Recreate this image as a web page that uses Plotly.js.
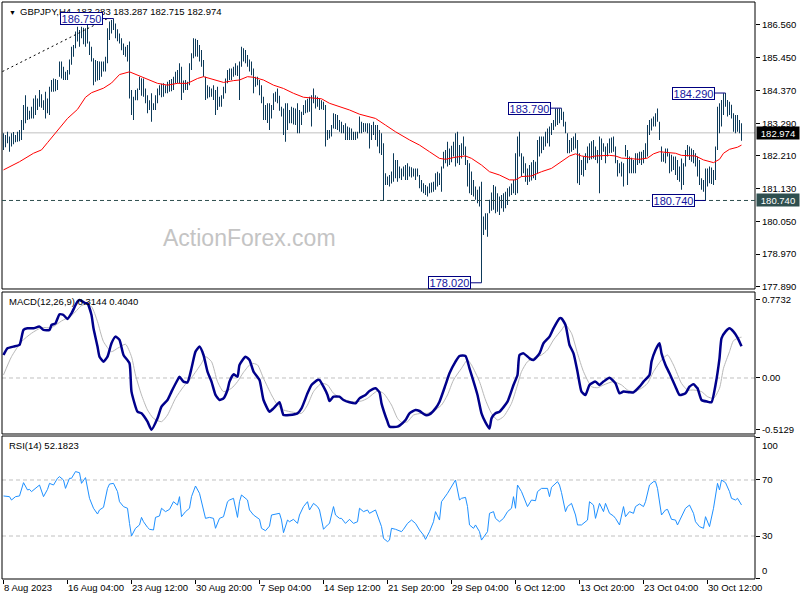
<!DOCTYPE html>
<html><head><meta charset="utf-8">
<script src="https://cdn.plot.ly/plotly-3.0.1.min.js"></script>
<style>html,body{margin:0;padding:0;background:#fff}#chart{width:800px;height:600px}</style>
</head><body><div id="chart"></div>
<script>
const symbolName = 'GBPJPY,H4';
const lastBarOHLC = [183.283, 183.287, 182.715, 182.974];
const macdHeader = [0.3144, 0.4040];
const rsiHeader = 52.1823;

const barHigh = [
182.96,182.90,183.01,182.85,182.96,183.00,182.90,183.01,183.07,183.40,
183.89,184.22,183.84,183.70,183.84,184.11,184.22,184.11,184.39,184.25,
184.05,184.33,184.11,184.50,184.72,184.77,184.75,184.72,185.33,185.33,
185.16,184.99,185.05,185.40,185.82,185.88,186.32,186.48,186.37,186.48,
186.45,186.43,186.54,185.99,185.82,185.44,185.38,185.35,185.33,185.33,
185.33,185.49,186.43,186.65,186.70,186.75,186.59,186.40,186.26,186.10,
185.93,185.82,185.88,185.99,184.39,184.17,184.39,184.44,184.83,184.78,
184.77,184.44,184.22,184.05,184.28,183.95,184.22,184.44,184.55,184.60,
184.61,184.55,184.66,184.72,184.75,184.83,184.99,185.05,185.27,185.16,
184.70,184.72,184.66,185.27,185.60,186.10,186.08,186.04,185.88,185.71,
185.38,184.83,184.55,184.50,184.44,184.55,184.39,184.50,184.17,184.22,
184.50,184.77,185.05,185.10,185.10,185.16,185.27,185.20,185.33,185.82,
185.77,185.71,185.55,185.40,185.33,185.10,184.83,184.83,184.72,184.55,
184.17,183.89,183.95,183.95,183.89,184.28,184.33,184.44,184.20,183.84,
183.78,183.95,183.95,183.73,183.84,183.80,183.78,183.95,183.73,183.67,
183.89,184.05,184.10,184.17,184.22,184.44,184.22,184.17,184.11,184.05,
184.00,183.89,183.07,183.07,183.23,183.62,183.60,183.56,183.40,183.34,
183.23,183.29,183.18,183.15,183.12,183.01,183.01,183.01,183.51,183.34,
183.30,183.29,183.29,183.29,183.23,183.34,183.23,183.23,183.07,182.96,
182.63,181.64,181.53,181.58,181.70,182.30,182.08,182.08,181.86,181.80,
181.86,181.91,181.97,181.86,181.84,181.80,181.80,181.80,181.58,181.42,
181.31,181.25,181.20,181.31,181.33,181.36,181.64,181.69,181.64,181.86,
182.35,182.41,182.68,182.46,182.55,182.68,182.96,183.01,182.57,182.63,
182.85,182.52,182.08,181.97,181.70,181.42,181.20,181.09,181.20,181.36,
180.21,180.32,180.32,180.76,181.00,181.25,181.20,180.98,180.87,180.92,
180.98,181.03,181.14,181.20,181.30,181.42,182.30,182.85,183.01,182.30,
182.19,181.97,181.80,181.91,182.00,182.08,182.02,182.74,182.85,182.85,
182.85,183.01,183.12,183.18,183.30,183.40,183.78,183.78,183.78,183.79,
183.67,183.34,182.96,182.74,182.80,182.85,182.96,182.74,182.30,182.08,
182.19,182.30,182.52,182.63,182.70,182.74,182.52,182.41,182.85,182.79,
182.63,182.52,182.63,182.79,182.82,182.85,182.52,182.08,181.97,182.02,
181.97,182.57,182.41,182.19,182.15,182.08,182.30,182.30,182.35,182.35,
182.41,182.63,183.23,183.40,183.45,183.51,183.62,183.78,183.34,182.52,
182.30,182.46,182.46,182.30,182.25,182.19,182.19,182.08,181.86,182.13,
181.97,182.41,182.57,182.52,182.46,182.41,182.30,182.19,182.08,181.47,
181.42,181.80,181.80,181.86,181.83,181.75,182.52,183.84,183.95,184.06,
184.28,184.29,184.06,184.00,183.90,183.62,183.56,183.56,183.40,183.287
];
const barLow = [
182.41,182.50,182.63,182.35,182.52,182.60,182.66,182.68,182.70,182.74,
183.07,183.29,183.40,183.42,183.45,183.45,183.56,183.73,183.84,183.80,
183.73,183.45,183.62,183.56,184.33,184.33,184.35,184.39,184.83,184.77,
184.72,184.72,184.72,184.90,185.22,185.49,185.77,185.99,185.82,186.10,
185.90,185.82,185.93,185.55,185.33,184.55,184.66,184.70,184.72,184.83,
185.00,185.00,185.27,186.04,186.26,186.37,186.10,186.00,185.93,185.70,
185.55,185.49,185.33,184.11,183.56,183.40,184.05,184.05,184.39,184.20,
184.17,183.95,183.62,183.73,183.34,183.73,183.73,183.95,184.22,184.15,
184.17,184.28,184.28,184.33,184.35,184.39,184.61,184.61,184.61,184.06,
184.30,184.39,184.39,184.55,185.05,185.44,185.50,185.49,185.33,185.16,
184.83,184.06,184.11,184.15,184.17,184.06,183.56,183.73,183.84,183.84,
184.10,184.28,184.61,184.72,184.72,184.83,184.88,184.85,184.06,185.16,
185.33,185.27,185.16,185.00,184.88,184.28,184.50,184.55,184.22,183.95,
183.40,183.40,183.30,183.07,183.45,183.73,184.00,183.95,183.70,183.51,
182.90,182.68,183.07,183.29,183.29,183.25,183.23,182.96,182.96,183.23,
183.56,183.62,183.65,183.67,183.18,183.95,183.78,183.84,183.73,183.75,
183.73,182.52,182.74,182.79,182.85,183.12,183.10,183.07,183.01,182.96,
182.96,182.74,182.74,182.74,182.74,182.74,182.74,182.79,182.96,182.96,
183.00,183.01,182.96,182.46,182.74,182.90,182.74,182.52,182.30,182.24,
180.74,181.25,181.25,181.20,181.30,181.36,181.47,181.36,181.47,181.42,
181.53,181.42,181.42,181.53,181.50,181.53,181.42,181.53,181.14,181.03,
180.98,180.92,180.87,180.98,181.00,181.03,181.09,181.20,181.25,181.03,
181.80,181.97,181.86,181.91,182.00,182.19,181.86,181.97,181.91,182.13,
182.24,181.91,181.20,180.98,180.92,180.87,180.76,180.65,180.54,178.02,
179.60,179.77,179.54,180.32,180.40,180.43,180.32,180.37,180.26,180.48,
180.37,180.48,180.59,180.87,180.92,180.98,180.92,180.98,182.19,181.53,
181.64,181.36,181.25,181.36,181.40,181.47,181.42,181.64,182.19,182.30,
182.41,182.52,182.63,182.52,182.90,183.07,183.18,183.23,183.29,183.40,
183.18,182.96,182.30,182.30,182.35,182.41,182.46,181.31,181.25,181.58,
181.53,181.75,181.97,182.08,182.10,182.13,182.08,181.97,180.98,182.08,
182.35,181.97,182.19,182.30,182.32,182.35,181.97,181.53,181.64,181.53,
181.20,182.19,181.25,181.64,181.64,181.64,181.64,181.91,181.97,181.91,
181.97,182.13,182.19,182.90,183.05,183.18,183.18,183.34,182.74,182.02,
182.02,181.97,182.19,181.64,181.70,181.75,181.58,181.42,181.36,181.09,
181.25,181.86,182.19,182.08,182.02,181.97,181.86,181.53,181.25,181.09,
181.03,180.74,181.20,181.31,181.28,181.25,181.42,182.41,182.96,183.18,
183.56,183.84,183.51,183.56,183.45,183.01,182.96,183.01,182.96,182.715
];

const maIndex = [0,8,15,19,22,27,32,37,41,44,47,50,54,58,63,67,72,77,82,87,92,97,100,105,110,115,118,122,125,130,135,140,145,150,155,159,163,168,173,178,183,186,191,196,203,208,213,218,221,226,231,234,239,243,248,253,256,259,264,269,274,279,283,286,289,293,296,303,306,309,313,318,322,325,328,333,336,339,343,346,350,355,358,360,363,367,369];
const maValue = [181.75,182.02,182.30,182.41,182.65,183.07,183.45,183.75,184.15,184.30,184.37,184.45,184.62,184.90,184.99,184.88,184.74,184.61,184.55,184.61,184.61,184.77,184.83,184.74,184.64,184.70,184.72,184.83,184.81,184.72,184.55,184.44,184.28,184.15,184.11,184.10,183.95,183.84,183.73,183.59,183.51,183.45,183.23,183.01,182.74,182.57,182.35,182.13,182.10,182.17,182.21,182.13,181.91,181.69,181.58,181.42,181.42,181.53,181.55,181.69,181.80,182.02,182.21,182.28,182.21,182.17,182.21,182.23,182.21,182.14,182.12,182.10,182.14,182.28,182.35,182.32,182.30,182.23,182.23,182.21,182.08,181.99,182.10,182.30,182.43,182.50,182.57];

const macdIndex = [0,2,5,8,10,12,15,18,20,23,24,26,28,30,32,34,37,38,41,42,44,45,47,48,50,52,54,56,58,60,63,64,67,69,72,74,77,79,82,84,87,88,90,92,94,96,98,100,102,104,106,108,110,112,113,115,117,118,121,123,125,128,130,133,135,138,140,143,147,149,152,154,157,158,160,162,163,165,168,170,173,176,178,181,183,186,188,189,192,193,197,198,201,203,206,208,211,213,216,218,221,223,226,228,231,233,237,239,241,243,244,246,248,252,255,257,258,260,263,265,268,270,273,275,278,279,281,283,285,287,289,291,293,296,298,300,303,306,308,310,313,315,318,320,323,324,326,328,329,331,333,336,338,341,343,345,347,349,352,354,356,358,359,361,363,365,367,369];
const macdValue = [0.228,0.294,0.311,0.327,0.476,0.492,0.492,0.509,0.476,0.476,0.525,0.542,0.631,0.624,0.585,0.641,0.757,0.7732,0.740,0.740,0.624,0.492,0.311,0.211,0.162,0.211,0.344,0.410,0.377,0.228,0.145,-0.135,-0.334,-0.350,-0.433,-0.5129,-0.400,-0.284,-0.218,-0.135,-0.020,0.013,-0.036,-0.043,0.096,0.261,0.311,0.228,0.063,-0.036,-0.168,-0.218,-0.202,-0.119,-0.036,0.036,0.013,0.129,0.211,0.178,0.063,-0.020,-0.218,-0.334,-0.301,-0.241,-0.367,-0.367,-0.350,-0.301,-0.152,-0.069,-0.020,-0.020,-0.086,-0.168,-0.228,-0.185,-0.185,-0.218,-0.241,-0.251,-0.202,-0.168,-0.129,-0.102,-0.142,-0.251,-0.433,-0.482,-0.482,-0.472,-0.416,-0.350,-0.317,-0.327,-0.367,-0.360,-0.301,-0.235,-0.069,0.046,0.162,0.218,0.218,0.096,-0.168,-0.350,-0.439,-0.500,-0.400,-0.350,-0.334,-0.235,-0.069,0.030,0.228,0.244,0.195,0.178,0.244,0.344,0.410,0.492,0.591,0.591,0.525,0.327,0.244,0.063,-0.135,-0.168,-0.069,-0.036,-0.069,-0.036,0.003,-0.053,-0.152,-0.135,-0.142,-0.142,-0.086,-0.036,0.030,0.162,0.278,0.344,0.244,0.129,0.046,-0.086,-0.168,-0.152,-0.086,-0.063,-0.102,-0.218,-0.235,-0.241,-0.069,0.195,0.393,0.459,0.492,0.459,0.400,0.3144];

const signalIndex = [0,4,9,14,19,24,29,34,39,41,44,47,50,54,57,61,64,66,69,72,75,79,82,86,90,94,99,101,104,107,110,114,117,120,124,127,130,134,137,140,145,149,152,155,159,162,165,169,174,179,182,187,190,194,197,199,202,205,209,212,215,219,222,225,229,232,234,238,241,244,247,250,254,257,259,262,265,269,272,275,279,281,284,287,290,294,297,300,305,309,312,315,319,322,325,329,332,335,339,342,345,349,352,355,358,360,363,365,368,369];
const signalValue = [0.030,0.211,0.360,0.443,0.499,0.499,0.565,0.618,0.717,0.730,0.707,0.558,0.360,0.261,0.294,0.334,0.211,0.030,-0.168,-0.317,-0.400,-0.433,-0.367,-0.202,-0.086,0.003,0.145,0.211,0.162,-0.036,-0.135,-0.102,-0.036,0.056,0.145,0.129,-0.003,-0.168,-0.268,-0.317,-0.340,-0.350,-0.268,-0.135,-0.053,-0.069,-0.152,-0.202,-0.235,-0.228,-0.202,-0.129,-0.152,-0.268,-0.400,-0.439,-0.433,-0.367,-0.350,-0.350,-0.327,-0.268,-0.168,-0.020,0.096,0.178,0.129,-0.036,-0.218,-0.350,-0.416,-0.383,-0.251,-0.069,0.063,0.162,0.195,0.228,0.278,0.377,0.476,0.525,0.443,0.244,0.063,-0.086,-0.096,-0.069,-0.036,-0.069,-0.119,-0.135,-0.102,-0.053,0.063,0.178,0.228,0.129,-0.053,-0.119,-0.119,-0.135,-0.185,-0.202,-0.102,0.096,0.261,0.370,0.400,0.4040];

const rsiIndex = [0,3,4,6,8,10,12,13,14,16,18,20,22,23,25,27,28,30,31,33,34,36,38,39,41,43,45,47,48,50,52,53,55,57,58,60,62,63,64,66,68,69,70,72,73,75,76,78,79,81,83,85,87,88,89,91,93,94,96,98,99,101,103,105,106,108,110,112,113,115,117,118,119,122,123,125,128,129,131,133,134,136,138,139,140,142,143,145,147,148,150,152,153,155,157,158,160,162,163,165,166,168,169,171,173,175,177,178,180,182,183,186,188,189,190,192,193,194,196,199,200,202,204,206,208,210,211,213,215,216,218,219,222,223,225,226,228,229,231,232,233,235,236,238,239,241,242,243,245,246,248,250,252,254,255,256,257,259,261,262,264,266,267,269,272,273,274,277,278,279,281,282,284,286,287,289,292,293,295,296,298,300,301,303,305,306,308,310,311,313,315,316,318,320,321,323,325,326,327,329,331,332,334,336,337,339,341,343,345,346,348,350,351,353,355,357,358,359,361,363,364,366,367,369];
const rsiValue = [58.6,58.1,55.7,58.1,58.6,68.1,62.9,63.3,61.7,64.0,66.4,58.1,63.3,67.6,66.4,71.2,72.4,70.0,64.0,71.2,71.2,76.0,75.2,67.6,71.7,56.9,49.8,45.7,48.6,50.5,64.0,67.1,67.6,61.7,54.5,51.0,49.8,39.0,30.0,35.5,37.9,43.3,40.2,36.2,34.8,34.3,43.3,44.3,49.8,47.4,49.0,54.5,52.1,58.1,43.8,47.4,49.8,58.1,65.7,60.5,54.5,42.6,43.3,42.6,35.5,42.6,43.8,54.5,55.7,56.9,43.3,54.5,59.3,55.7,48.6,45.0,41.9,35.5,33.8,37.1,45.0,45.7,46.2,41.4,32.4,41.4,40.2,41.9,39.0,45.0,51.0,54.5,48.6,53.3,51.0,48.6,34.8,37.9,39.0,51.0,45.0,42.6,42.6,39.0,41.9,39.0,40.2,49.8,47.4,48.6,46.2,48.6,41.4,36.7,28.3,26.0,27.1,35.5,34.8,33.1,34.8,39.0,41.4,39.0,34.3,30.7,27.6,33.1,40.2,47.4,41.4,54.5,60.5,62.9,67.6,70.0,55.7,56.9,57.6,51.0,37.9,35.5,37.9,33.1,27.1,30.7,33.1,46.2,47.4,42.6,40.2,42.6,47.4,49.8,58.1,49.8,66.4,61.7,53.8,51.0,55.7,55.2,61.7,64.0,64.0,58.1,64.8,68.8,66.4,61.0,47.4,51.0,53.3,45.0,37.9,37.9,41.4,54.5,52.1,42.6,53.3,47.4,53.3,46.2,44.3,42.6,37.9,51.0,43.8,47.4,46.2,51.0,52.9,51.0,54.5,66.4,68.8,68.8,64.0,45.0,48.6,49.0,41.9,41.4,37.9,43.8,49.8,52.1,46.2,40.2,36.7,35.5,43.8,36.7,49.8,67.6,62.9,70.0,68.1,61.7,56.9,55.7,56.9,52.1823];

const priceTicks = [186.560,185.450,184.370,183.290,182.210,181.130,180.050,178.970,177.890];
const macdTicks = [0.7732, 0.00, -0.5129];
const macdTickText = ['0.7732','0.00','-0.5129'];
const rsiLevels = [70, 30];
const rsiEdgeTicks = [100, 0];
const timeTickIndex = [0,32,64,96,128,160,192,224,256,288,320,352];
const timeTickLabels = ['8 Aug 2023','16 Aug 04:00','23 Aug 12:00','30 Aug 20:00','7 Sep 04:00','14 Sep 12:00','21 Sep 20:00','29 Sep 04:00','6 Oct 12:00','13 Oct 20:00','23 Oct 04:00','30 Oct 12:00'];
const swingLevels = [186.750, 183.790, 178.020, 180.740, 184.290];
const supportLevel = 180.740;
const trendIndex = [-0.5, 52];
const trendPrice = [185.00, 186.75];

const barX = barHigh.map((_, k) => k);
const barRange = barHigh.map((h, k) => +(h - barLow[k]).toFixed(3));
const barColor = '#0d3a59';
const navy = '#000080';

const traces = [
  {type:'bar', x:barX, base:barLow, y:barRange, width:0.5, marker:{color:barColor, line:{width:0}}, xaxis:'x', yaxis:'y', hoverinfo:'skip'},
  {type:'scatter', mode:'lines', x:maIndex, y:maValue, line:{color:'#ff0000', width:1}, xaxis:'x', yaxis:'y', hoverinfo:'skip'},
  {type:'scatter', mode:'lines', x:trendIndex, y:trendPrice, line:{color:'#000', width:1, dash:'2px,3px'}, xaxis:'x', yaxis:'y', hoverinfo:'skip'},
  {type:'scatter', mode:'lines', x:signalIndex, y:signalValue, line:{color:'#b8b8b8', width:1, shape:'spline', smoothing:0.6}, xaxis:'x', yaxis:'y2', hoverinfo:'skip'},
  {type:'scatter', mode:'lines', x:macdIndex, y:macdValue, line:{color:'#00008b', width:2.5, shape:'spline', smoothing:0.5}, xaxis:'x', yaxis:'y2', hoverinfo:'skip'},
  {type:'scatter', mode:'lines', x:rsiIndex, y:rsiValue, line:{color:'#1e90ff', width:1}, xaxis:'x', yaxis:'y3', hoverinfo:'skip'}
];

const shapes = [];
const annotations = [];
['y','y2','y3'].forEach(ax => {
  shapes.push({type:'rect', xref:'paper', yref:ax + ' domain', x0:0, x1:1, y0:0, y1:1, line:{color:'#000', width:1}, fillcolor:'rgba(0,0,0,0)', layer:'above'});
});
shapes.push({type:'line', xref:'paper', yref:'y', x0:0, x1:1, y0:lastBarOHLC[3], y1:lastBarOHLC[3], line:{color:'#c0c0c0', width:1}, layer:'below'});
shapes.push({type:'line', xref:'paper', yref:'y', x0:0, x1:1, y0:supportLevel, y1:supportLevel, line:{color:'#2f4f4f', width:1, dash:'4px,3px'}, layer:'above'});
shapes.push({type:'line', xref:'paper', yref:'y2', x0:0, x1:1, y0:0, y1:0, line:{color:'#c0c0c0', width:1, dash:'4px,3px'}, layer:'below'});
rsiLevels.forEach(l => shapes.push({type:'line', xref:'paper', yref:'y3', x0:0, x1:1, y0:l, y1:l, line:{color:'#c0c0c0', width:1, dash:'4px,3px'}, layer:'below'}));

annotations.push({xref:'paper', yref:'y domain', x:0.0066, y:1, xanchor:'left', yanchor:'top', yshift:-5, text:'▼', showarrow:false, font:{size:7, color:'#000'}});
annotations.push({xref:'paper', yref:'y domain', x:0.0212, y:1, xanchor:'left', yanchor:'top', yshift:-2,
  text: symbolName + '\u00a0\u00a0' + lastBarOHLC.map(v => v.toFixed(3)).join('\u00a0'), showarrow:false, font:{size:9.5, color:'#000'}});
annotations.push({xref:'paper', yref:'y domain', x:0.329, y:0.178, xanchor:'center', yanchor:'middle', text:'ActionForex.com', showarrow:false, font:{size:23, color:'#c4c4c4', family:'Liberation Sans, Arial, sans-serif'}});
swingLevels.forEach(level => {
  let idx = barHigh.lastIndexOf(level);
  if (idx < 0) idx = barLow.lastIndexOf(level);
  shapes.push({type:'line', xref:'x', yref:'y', x0:idx - 5.5, x1:idx, y0:level, y1:level, line:{color:navy, width:1}, layer:'above'});
  annotations.push({xref:'x', yref:'y', x:idx - 5.5, y:level, xanchor:'right', yanchor:'middle', text:level.toFixed(3), showarrow:false,
    bgcolor:'#ffffff', bordercolor:navy, borderwidth:1, borderpad:0, width:41, height:11, font:{size:11, color:'#1414a0'}});
});
annotations.push({xref:'paper', yref:'y', x:1, xshift:1, y:lastBarOHLC[3], xanchor:'left', yanchor:'middle', text:lastBarOHLC[3].toFixed(3), showarrow:false,
  bgcolor:'#000000', borderpad:1, width:40, height:10, font:{size:9.5, color:'#ffffff'}});
annotations.push({xref:'paper', yref:'y', x:1, xshift:1, y:supportLevel, xanchor:'left', yanchor:'middle', text:supportLevel.toFixed(3), showarrow:false,
  bgcolor:'#2f4f4f', borderpad:1, width:40, height:10, font:{size:9.5, color:'#ffffff'}});
annotations.push({xref:'paper', yref:'y2 domain', x:0.0066, y:1, xanchor:'left', yanchor:'top', yshift:-2,
  text:'MACD(12,26,9) ' + macdHeader.map(v => v.toFixed(4)).join(' '), showarrow:false, font:{size:9.5, color:'#000'}});
annotations.push({xref:'paper', yref:'y3 domain', x:0.0066, y:1, xanchor:'left', yanchor:'top', yshift:-2,
  text:'RSI(14) ' + rsiHeader.toFixed(4), showarrow:false, font:{size:9.5, color:'#000'}});
annotations.push({xref:'paper', yref:'y3', x:1, xshift:5, y:rsiEdgeTicks[0], xanchor:'left', yanchor:'top', text:String(rsiEdgeTicks[0]), showarrow:false, font:{size:9.5, color:'#000'}});
annotations.push({xref:'paper', yref:'y3', x:1, xshift:5, y:rsiEdgeTicks[1], xanchor:'left', yanchor:'bottom', text:String(rsiEdgeTicks[1]), showarrow:false, font:{size:9.5, color:'#000'}});

const axisCommon = {showgrid:false, zeroline:false, showline:false, ticks:'outside', ticklen:4, tickcolor:'#000', tickwidth:1, fixedrange:true};

const layout = {
  width:800, height:600,
  margin:{l:2, r:45, t:2, b:21},
  paper_bgcolor:'#ffffff', plot_bgcolor:'#ffffff',
  showlegend:false,
  font:{family:'Liberation Sans, Arial, sans-serif', size:9.5, color:'#000'},
  xaxis:Object.assign({}, axisCommon, {range:[-0.75, 375.75], anchor:'y3', tickvals:timeTickIndex, ticktext:timeTickLabels, tickangle:0, ticklabelposition:'outside right', rangeslider:{visible:false}}),
  yaxis:Object.assign({}, axisCommon, {domain:[0.5026, 1], range:[177.815, 187.297], side:'right', anchor:'x', tickvals:priceTicks, ticktext:priceTicks.map(v => v.toFixed(3))}),
  yaxis2:Object.assign({}, axisCommon, {domain:[0.2513, 0.4974], range:[-0.555, 0.852], side:'right', anchor:'x', tickvals:macdTicks, ticktext:macdTickText}),
  yaxis3:Object.assign({}, axisCommon, {domain:[0, 0.2478], range:[-0.7, 101.4], side:'right', anchor:'x', tickvals:rsiEdgeTicks.concat(rsiLevels), ticktext:['', ''].concat(rsiLevels.map(String))}),
  shapes:shapes,
  annotations:annotations
};

Plotly.newPlot('chart', traces, layout, {displayModeBar:false, staticPlot:true});
</script>
</body></html>
